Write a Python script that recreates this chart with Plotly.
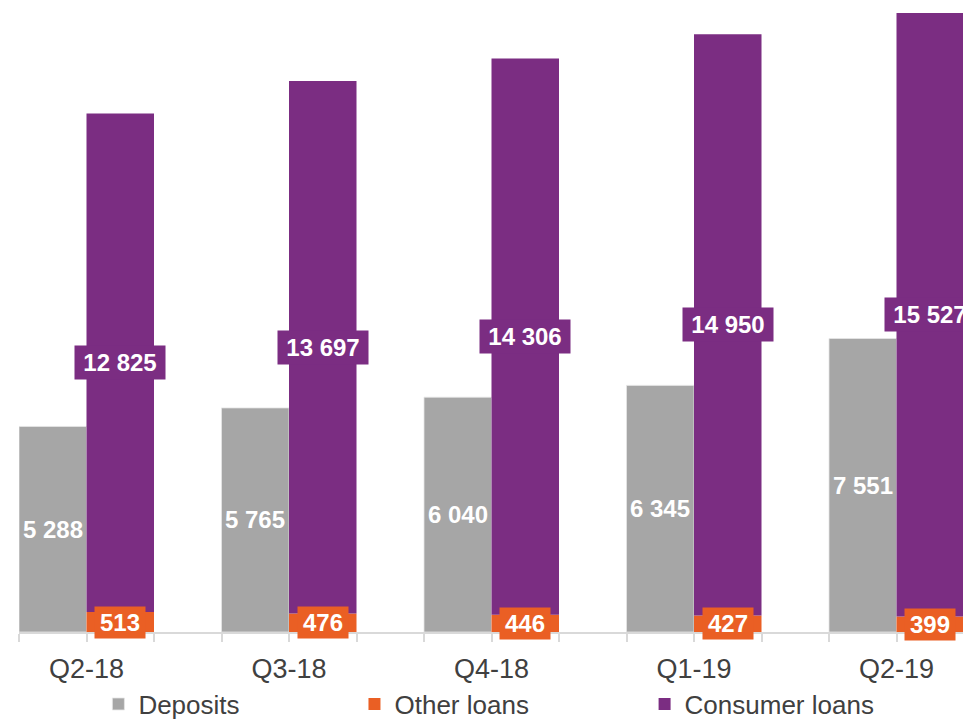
import plotly.graph_objects as go

quarters = ["Q2-18", "Q3-18", "Q4-18", "Q1-19", "Q2-19"]
deposits = [5288, 5765, 6040, 6345, 7551]
other_loans = [513, 476, 446, 427, 399]
consumer_loans = [12825, 13697, 14306, 14950, 15527]

GRAY = "#A6A6A6"
ORANGE = "#EA5F24"
PURPLE = "#7B2D82"
AXIS = "#D9D9D9"
FONT = "Liberation Sans"


def fmt(v):
    return f"{v:,}".replace(",", " ")


x = list(range(len(quarters)))
w = 1 / 3

fig = go.Figure()

fig.add_trace(go.Bar(x=x, y=deposits, name="Deposits", width=w, offset=-w, legend="legend",
                     marker=dict(color=GRAY, line=dict(color="#E6E6E6", width=0.8))))
fig.add_trace(go.Bar(x=x, y=other_loans, name="Other loans", width=w, offset=0, legend="legend2",
                     marker=dict(color=ORANGE, line=dict(width=0))))
# consumer loans stacked on top of other loans
fig.add_trace(go.Bar(x=x, y=consumer_loans, base=other_loans, name="Consumer loans",
                     width=w, offset=0, legend="legend3",
                     marker=dict(color=PURPLE, line=dict(width=0))))

annotations = []
for i in x:
    annotations.append(dict(x=i - w / 2, y=deposits[i] / 2, text="<b>%s</b>" % fmt(deposits[i]),
                            showarrow=False, font=dict(family=FONT, size=24, color="white")))
    annotations.append(dict(x=i + w / 2, y=other_loans[i] / 2, text="<b>%s</b>" % fmt(other_loans[i]),
                            showarrow=False, bgcolor=ORANGE, borderpad=2, width=46,
                            font=dict(family=FONT, size=24, color="white")))
    annotations.append(dict(x=i + w / 2, y=other_loans[i] + consumer_loans[i] / 2,
                            text="<b>%s</b>" % fmt(consumer_loans[i]),
                            showarrow=False, bgcolor=PURPLE, borderpad=3, width=84,
                            font=dict(family=FONT, size=24, color="white")))

leg = dict(orientation="h", yref="container", y=0.021, yanchor="middle", xanchor="left",
           itemwidth=30, bgcolor="rgba(0,0,0,0)",
           font=dict(family=FONT, size=26, color="#404040"))

# page is drawn with an 8px body margin, so the figure is 8px smaller
fig.update_layout(
    width=963, height=711,
    margin=dict(l=11, r=7, t=0, b=87),
    barmode="overlay",
    showlegend=True,
    plot_bgcolor="white",
    paper_bgcolor="white",
    font=dict(family=FONT, size=27, color="#404040"),
    annotations=annotations,
    legend=dict(leg, x=0.084),
    legend2=dict(leg, x=0.355),
    legend3=dict(leg, x=0.662),
    xaxis=dict(range=[-w, 4 + w], tickvals=x, ticktext=quarters, automargin=False,
               showline=True, linecolor=AXIS, linewidth=1.5,
               ticks="outside", ticklen=8, tickcolor=AXIS, tickwidth=1.5,
               ticklabelstandoff=4,
               minor=dict(ticks="outside", dtick=w, tick0=0, ticklen=8,
                          tickcolor=AXIS, tickwidth=1.5),
               showgrid=False, zeroline=False),
    yaxis=dict(range=[0, 16054], showticklabels=False, showgrid=False, zeroline=False,
               automargin=False),
)

fig.write_html("out.html")
